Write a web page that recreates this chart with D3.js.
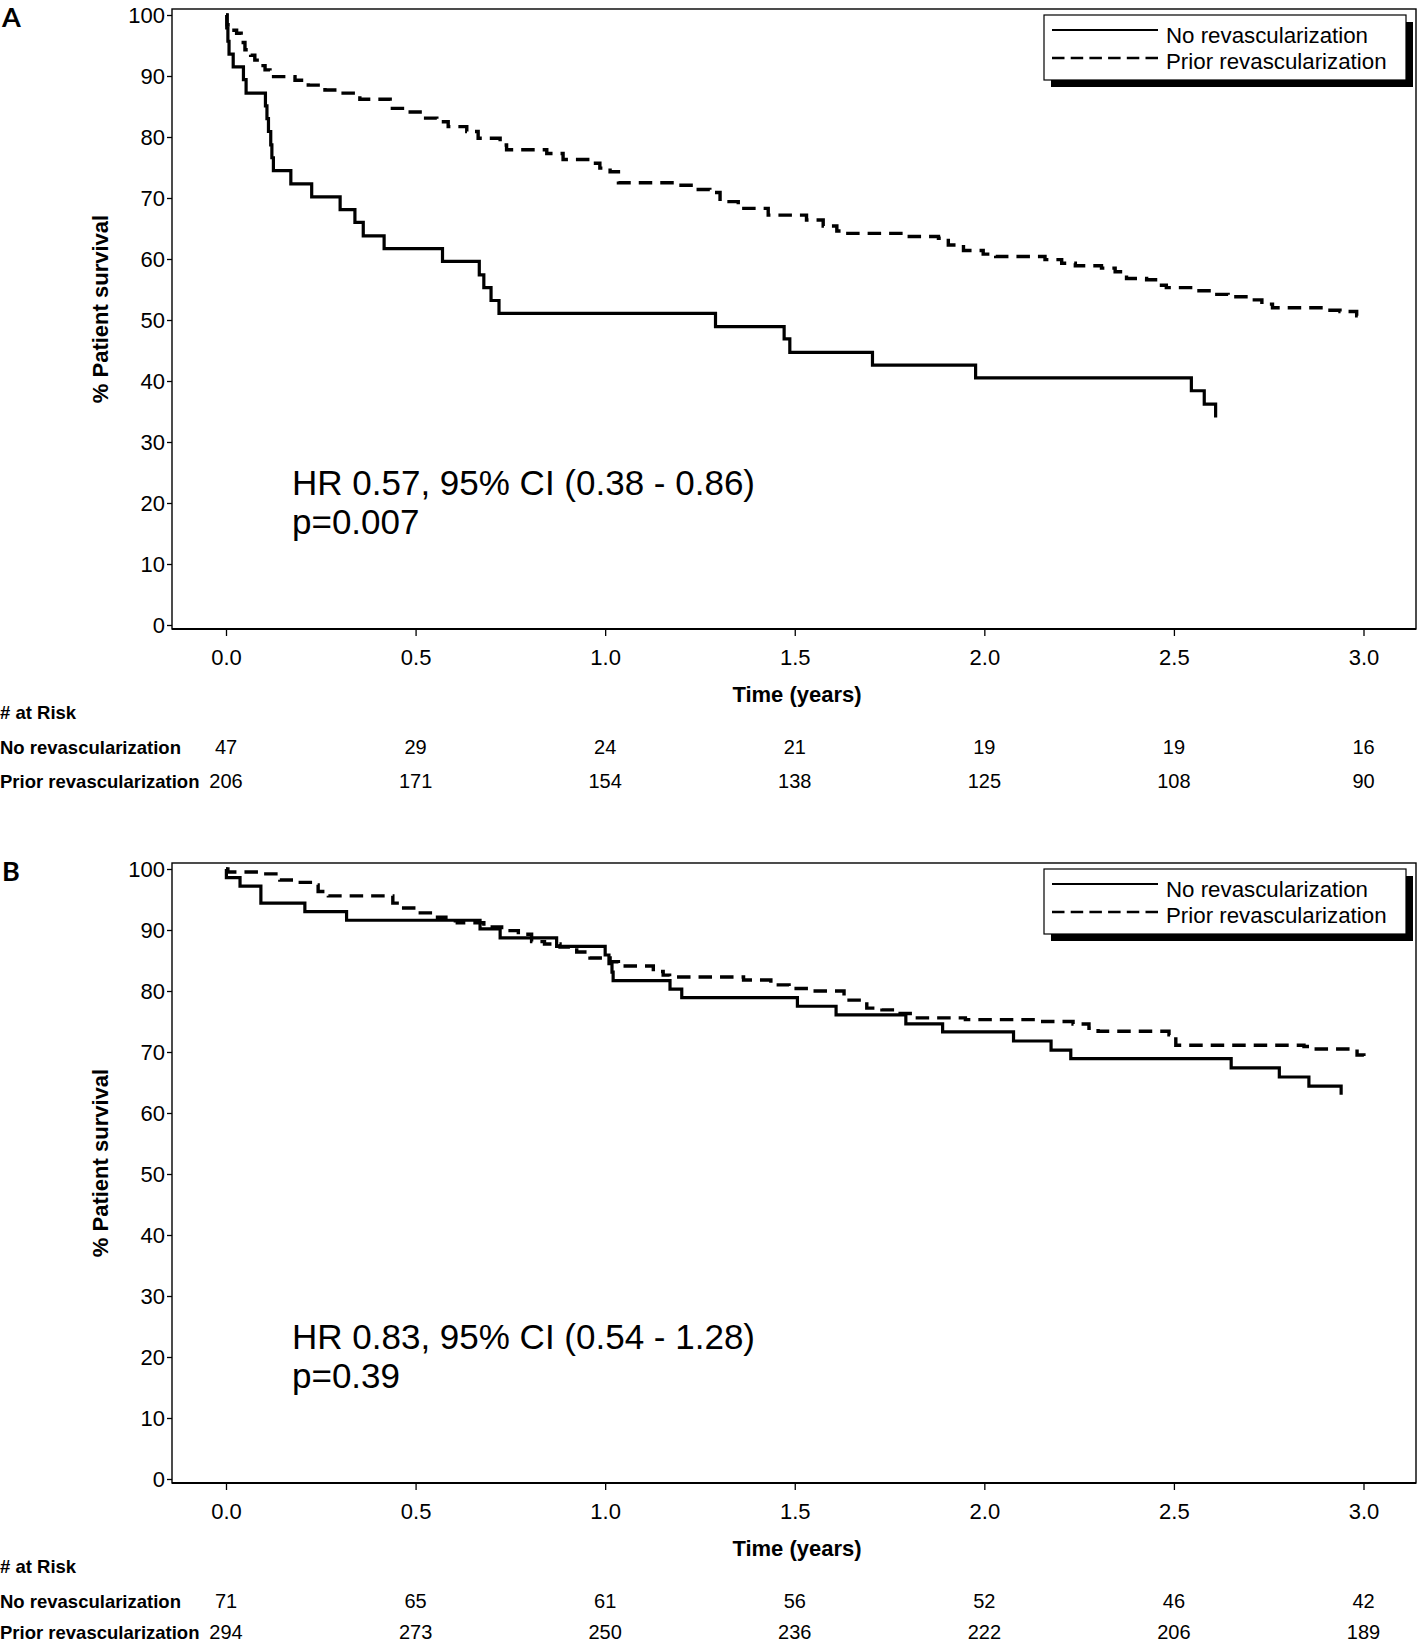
<!DOCTYPE html>
<html><head><meta charset="utf-8">
<script src="https://cdn.jsdelivr.net/npm/d3@7"></script>
<style>body{margin:0;background:#fff}svg{display:block}</style>
</head><body>
<svg id="c" width="1418" height="1642"></svg>
<script>
// ---------- data ----------
const timeTicks = [0, 0.5, 1.0, 1.5, 2.0, 2.5, 3.0];
const survTicks = [0, 10, 20, 30, 40, 50, 60, 70, 80, 90, 100];
const seriesNames = ["No revascularization", "Prior revascularization"];

// Panel A  [time (years), % survival]
const noRevA = [[0,100],[0.002,97.9],[0.005,95.7],[0.008,93.6],[0.019,91.5],[0.046,89.4],[0.053,87.2],
  [0.104,85.1],[0.108,83.0],[0.112,80.9],[0.118,78.7],[0.121,76.6],[0.125,74.5],[0.171,72.3],[0.226,70.2],
  [0.301,68.1],[0.340,66.0],[0.362,63.8],[0.417,61.7],[0.571,59.6],[0.668,57.4],[0.680,55.3],[0.699,53.2],
  [0.720,51.1],[1.291,48.9],[1.472,46.9],[1.487,44.7],[1.705,42.6],[1.977,40.5],[2.546,38.4],[2.580,36.2],[2.610,34.0]];
const priorA = [[0,100],[0.003,98.4],[0.015,97.5],[0.028,97.0],[0.040,95.5],[0.050,94.3],[0.065,93.4],[0.076,92.6],
  [0.090,91.7],[0.103,91.0],[0.116,89.9],[0.182,89.3],[0.217,88.5],[0.261,87.7],[0.292,87.2],[0.353,86.2],
  [0.433,84.7],[0.477,84.1],[0.512,83.1],[0.556,82.5],[0.586,81.7],[0.635,80.9],[0.665,79.8],[0.723,78.7],
  [0.740,77.9],[0.846,77.3],[0.889,76.3],[0.964,75.7],[0.986,74.9],[1.013,74.3],[1.035,72.5],[1.184,72.1],
  [1.232,71.4],[1.276,70.9],[1.303,69.4],[1.351,68.3],[1.430,67.2],[1.531,66.4],[1.575,65.4],[1.611,64.6],
  [1.640,64.2],[1.795,63.7],[1.879,63.4],[1.905,62.3],[1.945,61.4],[1.997,60.8],[2.030,60.4],[2.160,59.9],
  [2.204,59.3],[2.240,58.9],[2.309,58.5],[2.345,57.9],[2.375,56.8],[2.428,56.6],[2.459,55.7],[2.480,55.3],
  [2.556,54.8],[2.600,54.2],[2.643,53.8],[2.696,53.3],[2.732,52.6],[2.760,52.0],[2.907,51.6],[2.938,51.4],
  [2.982,50.7],[3.000,50.5]];
const riskNoA = [47, 29, 24, 21, 19, 19, 16];
const riskPriorA = [206, 171, 154, 138, 125, 108, 90];
const statsA = ["HR 0.57, 95% CI (0.38 - 0.86)", "p=0.007"];

// Panel B
const noRevB = [[0,100],[0.001,98.6],[0.037,97.2],[0.092,94.4],[0.208,93.0],[0.318,91.6],[0.670,90.2],[0.723,88.7],
  [0.872,87.3],[1.000,85.9],[1.010,84.5],[1.018,83.1],[1.021,81.7],[1.171,80.3],[1.202,78.9],[1.507,77.5],
  [1.609,76.1],[1.793,74.6],[1.890,73.3],[2.077,71.8],[2.176,70.3],[2.228,68.9],[2.651,67.4],[2.778,65.9],
  [2.856,64.4],[2.941,63.0]];
const priorB = [[0,100],[0.005,99.5],[0.094,99.2],[0.142,98.2],[0.186,97.8],[0.235,97.4],[0.243,96.3],[0.270,95.6],
  [0.440,94.4],[0.460,93.6],[0.503,92.8],[0.545,92.1],[0.580,91.5],[0.610,91.2],[0.680,90.5],[0.727,89.9],
  [0.771,89.3],[0.806,88.1],[0.840,87.7],[0.881,87.2],[0.925,86.4],[0.960,85.4],[1.013,84.8],[1.035,84.1],
  [1.127,83.2],[1.153,82.6],[1.170,82.3],[1.365,81.8],[1.437,81.0],[1.485,80.4],[1.540,80.0],[1.630,78.5],
  [1.690,77.2],[1.730,76.9],[1.770,76.3],[1.810,75.6],[1.950,75.3],[2.138,75.0],[2.234,74.6],[2.276,73.9],
  [2.300,73.4],[2.487,72.8],[2.505,71.1],[2.843,70.9],[2.870,70.5],[2.983,69.5],[3.001,69.1]];
const riskNoB = [71, 65, 61, 56, 52, 46, 42];
const riskPriorB = [294, 273, 250, 236, 222, 206, 189];
const statsB = ["HR 0.83, 95% CI (0.54 - 1.28)", "p=0.39"];

// ---------- drawing ----------
const FONT = "'Liberation Sans', Arial, Helvetica, sans-serif";
const svg = d3.select("#c");
const x = d3.scaleLinear().domain([0, 3]).range([226, 1363.5]);
const y = d3.scaleLinear().domain([0, 100]).range([625, 15]);
const line = d3.line().x(d => x(d[0])).y(d => y(d[1])).curve(d3.curveStepAfter);

const FR = {l: 172, r: 1416, t: 9, b: 629};

function drawPanel(offsetY, letter, noRev, prior, riskNo, riskPrior, stats, lastRowY) {
  const g = svg.append("g").attr("transform", `translate(0,${offsetY})`);

  g.append("text").attr("x", 2).attr("y", 27).text(letter)
    .attr("font-family", "Lato, 'Open Sans', sans-serif").attr("font-weight", 700)
    .attr("font-size", 27).attr("fill", "#000");

  // frame
  g.append("rect").attr("x", FR.l).attr("y", FR.t)
    .attr("width", FR.r - FR.l).attr("height", FR.b - FR.t)
    .attr("fill", "none").attr("stroke", "#000").attr("stroke-width", 1.4);
  g.append("line").attr("x1", FR.l).attr("x2", FR.r).attr("y1", FR.b).attr("y2", FR.b)
    .attr("stroke", "#000").attr("stroke-width", 2.2);

  // y axis
  const ya = g.append("g").attr("transform", `translate(${FR.l},0)`)
    .call(d3.axisLeft(y).tickValues(survTicks).tickSize(5).tickPadding(2).tickFormat(d3.format("d")));
  ya.select(".domain").remove();
  ya.attr("font-family", FONT).attr("font-size", 22);
  ya.selectAll("line").attr("stroke", "#000").attr("stroke-width", 1.3);
  ya.selectAll("text").attr("fill", "#000").attr("dy", "0.36em");

  // x axis
  const xa = g.append("g").attr("transform", `translate(0,${FR.b})`)
    .call(d3.axisBottom(x).tickValues(timeTicks).tickSize(7).tickFormat(d3.format(".1f")));
  xa.select(".domain").remove();
  xa.attr("font-family", FONT).attr("font-size", 22);
  xa.selectAll("line").attr("stroke", "#000").attr("stroke-width", 1.3);
  xa.selectAll("text").attr("fill", "#000").attr("y", 36).attr("dy", 0);

  // axis titles
  g.append("text").attr("x", 797).attr("y", 702).attr("text-anchor", "middle")
    .attr("font-family", FONT).attr("font-weight", 700).attr("font-size", 22).text("Time (years)");
  g.append("text").attr("transform", "translate(108,309) rotate(-90)").attr("text-anchor", "middle")
    .attr("font-family", FONT).attr("font-weight", 700).attr("font-size", 22).text("% Patient survival");

  // curves
  g.append("path").datum(noRev).attr("d", line).attr("fill", "none")
    .attr("stroke", "#000").attr("stroke-width", 3.2);
  g.append("path").datum(prior).attr("d", line).attr("fill", "none")
    .attr("stroke", "#000").attr("stroke-width", 3.4).attr("stroke-dasharray", "13.5,8");

  // stats text
  g.append("text").attr("x", 292).attr("y", 495).attr("font-family", FONT)
    .attr("font-size", 35).text(stats[0]);
  g.append("text").attr("x", 292).attr("y", 534).attr("font-family", FONT)
    .attr("font-size", 35).text(stats[1]);

  // legend
  const L = {x: 1044, y: 15, w: 362, h: 65, sh: 7};
  g.append("rect").attr("x", L.x + L.sh).attr("y", L.y + L.sh).attr("width", L.w).attr("height", L.h).attr("fill", "#000");
  g.append("rect").attr("x", L.x).attr("y", L.y).attr("width", L.w).attr("height", L.h)
    .attr("fill", "#fff").attr("stroke", "#000").attr("stroke-width", 1.2);
  g.append("line").attr("x1", 1052).attr("x2", 1158).attr("y1", 30).attr("y2", 30)
    .attr("stroke", "#000").attr("stroke-width", 2);
  g.append("line").attr("x1", 1052).attr("x2", 1158).attr("y1", 58).attr("y2", 58)
    .attr("stroke", "#000").attr("stroke-width", 2.6).attr("stroke-dasharray", "12.5,6.2");
  g.append("text").attr("x", 1166).attr("y", 43).attr("font-family", FONT).attr("font-size", 22.3).text(seriesNames[0]);
  g.append("text").attr("x", 1166).attr("y", 69).attr("font-family", FONT).attr("font-size", 22.3).text(seriesNames[1]);

  // at-risk table
  g.append("text").attr("x", 0).attr("y", 719).attr("font-family", FONT).attr("font-weight", 700)
    .attr("font-size", 18.5).text("# at Risk");
  const rows = [[seriesNames[0], riskNo, 754], [seriesNames[1], riskPrior, lastRowY]];
  rows.forEach(([name, vals, yy]) => {
    g.append("text").attr("x", 0).attr("y", yy).attr("font-family", FONT).attr("font-weight", 700)
      .attr("font-size", 18.5).text(name);
    g.selectAll(null).data(vals).enter().append("text")
      .attr("x", (d, i) => x(timeTicks[i])).attr("y", yy).attr("text-anchor", "middle")
      .attr("font-family", FONT).attr("font-size", 20).text(d => d);
  });
}

drawPanel(0, "A", noRevA, priorA, riskNoA, riskPriorA, statsA, 788);
drawPanel(854, "B", noRevB, priorB, riskNoB, riskPriorB, statsB, 785);
</script>
</body></html>
